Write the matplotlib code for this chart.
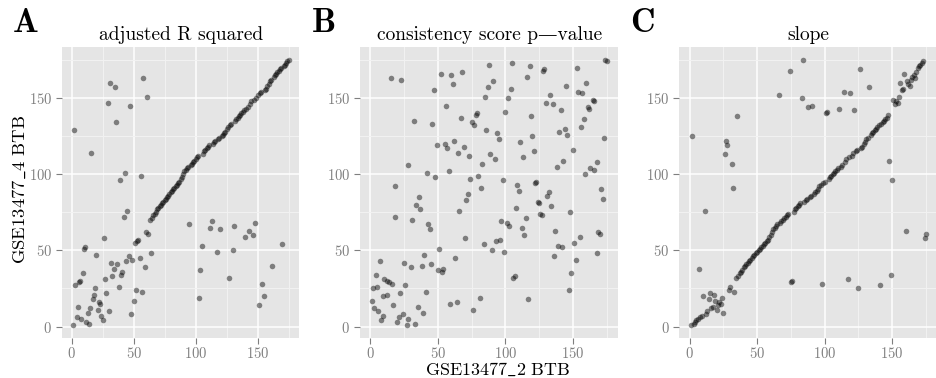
import matplotlib
matplotlib.use('Agg')
import matplotlib.pyplot as plt

plt.rcParams['font.family'] = ['cmr10', 'DejaVu Serif']
plt.rcParams['mathtext.fontset'] = 'cm'
plt.rcParams['axes.formatter.use_mathtext'] = True

# gene ranks: GSE13477_2 BTB (x) vs GSE13477_4 BTB (y), one list pair per score
adj_r2_x = [
    1, 2, 3, 4, 5, 6, 7, 8, 9, 10, 11, 12, 13, 14, 15, 16, 17, 18, 19, 20,
    21, 22, 23, 24, 25, 26, 27, 28, 29, 30, 31, 32, 33, 34, 35, 36, 37, 38,
    39, 40, 41, 42, 43, 44, 45, 46, 47, 48, 49, 50, 51, 52, 53, 54, 55, 56,
    57, 58, 59, 60, 61, 62, 64,
    95, 103, 104, 105, 112, 113, 117, 120, 127, 130, 131, 140, 143, 146, 148,
    151, 154, 155, 162, 170,
    63, 65, 66, 67, 68, 69, 70, 71, 72, 73, 74, 75, 76, 77, 78, 79, 80, 81,
    82, 83, 84, 85, 86, 87, 88, 89, 90, 91, 92, 93, 94, 96, 97, 98, 99, 100,
    101, 102, 106, 107, 108, 109, 110, 111, 114, 115, 116, 118, 119, 121,
    122, 123, 124, 125, 126, 128, 129, 132, 133, 134, 135, 136, 137, 138,
    139, 141, 142, 144, 145, 147, 149, 150, 152, 153, 156, 157, 158, 159,
    160, 161, 163, 164, 165, 166, 167, 168, 169, 171, 172, 173, 174, 175,
]
adj_r2_y = [
    1, 129, 27, 6, 13, 29, 30, 5, 35, 51, 52, 3, 9, 2, 12, 114, 18, 21, 25, 47,
    11, 16, 15, 7, 4, 58, 31, 22, 147, 10, 160, 42, 33, 38, 157, 134, 41, 26,
    96, 34, 36, 72, 101, 43, 76, 46, 145, 8, 44, 17, 55, 24, 56, 57, 45, 99,
    23, 163, 39, 62, 151, 61, 48,
    67, 19, 37, 53, 65, 69, 49, 64, 32, 50, 66, 59, 63, 60, 68,
    14, 28, 20, 40, 54,
    70, 71, 73, 74, 75, 77, 78, 79, 80, 81, 82, 83, 84, 85, 86, 87, 88, 89,
    90, 91, 92, 93, 94, 95, 97, 98, 100, 102, 103, 104, 105, 106, 107, 108,
    109, 110, 111, 112, 113, 115, 116, 117, 118, 119, 120, 121, 122, 123,
    124, 125, 126, 127, 128, 130, 131, 132, 133, 135, 136, 137, 138, 139,
    140, 141, 142, 143, 144, 146, 148, 149, 150, 152, 153, 154, 155, 156,
    158, 159, 161, 162, 164, 165, 166, 167, 168, 169, 170, 171, 172, 173,
    174, 175,
]

pvalue_x = [
    174, 175, 105, 88, 118, 153, 128, 129, 68, 52, 60, 116, 15, 23, 91, 160,
    61, 145, 87, 104, 47, 154, 157, 133, 85, 102, 165, 166, 130, 135, 56, 161,
    162, 141, 100, 79, 78, 119, 67, 158, 32, 75, 46, 77, 156, 144, 86, 140,
    94, 146, 120, 173, 95, 62, 111, 55, 49, 69, 57, 150, 121, 65, 89, 73, 113,
    92, 143, 168, 83, 28, 138, 163, 166, 58, 42, 159, 80, 48, 74, 98, 123,
    122, 109, 18, 82, 171, 110, 132, 72, 131, 36, 172, 71, 124, 125, 34, 134,
    108, 37, 66, 148, 126, 127, 18, 115, 31, 97, 101, 43, 103, 112, 44, 137,
    169, 170, 114, 155, 70, 96, 93, 151, 84, 139, 142, 51, 90, 99, 168, 40,
    136, 63, 152, 7, 25, 45, 38, 30, 50, 53, 54, 4, 149, 106, 107, 10, 12,
    14, 16, 26, 5, 2, 147, 41, 22, 12, 9, 81, 117, 1, 59, 64, 17, 35, 3, 76,
    6, 39, 24, 9, 21, 28, 8, 20, 33, 27,
]
pvalue_y = [
    175, 174, 173, 172, 171, 170, 168, 169, 167, 166, 165, 164, 163, 162, 161,
    160, 159, 158, 157, 156, 155, 154, 153, 152, 151, 150, 149, 148, 147, 146,
    145, 144, 143, 142, 141, 140, 139, 138, 137, 136, 135, 134, 133, 132, 131,
    130, 129, 128, 127, 126, 125, 124, 123, 122, 121, 120, 119, 118, 117, 116,
    115, 114, 113, 112, 111, 110, 109, 108, 107, 106, 105, 104, 103, 102, 101,
    100, 99, 98, 97, 96, 95, 94, 93, 92, 91, 90, 89, 88, 87, 86, 85, 84, 83,
    82, 81, 80, 79, 78, 77, 76, 75, 74, 73, 72, 71, 70, 69, 68, 67, 66, 65,
    64, 63, 62, 61, 60, 59, 58, 57, 56, 55, 54, 53, 52, 51, 50, 49, 48, 47,
    46, 45, 44, 43, 42, 41, 40, 39, 37, 36, 38, 34, 35, 32, 33, 31, 30, 29,
    28, 27, 26, 25, 24, 23, 22, 21, 20, 19, 18, 17, 15, 16, 14, 13, 12, 11,
    10, 9, 8, 7, 6, 5, 4, 3, 2, 1,
]

slope_x = [
    2, 7, 11, 26, 27, 28, 31, 32,
    1, 3, 4, 5, 6, 8, 9, 10, 12, 13, 14, 15, 16, 17, 18, 19, 20, 21, 22, 23,
    24, 25, 29, 30, 33,
    35, 66, 74, 75, 76, 83, 84, 88, 91, 98, 101, 102, 111, 114, 117, 119, 122,
    125, 126, 133, 141,
    148, 149, 150, 160, 174, 175,
    34, 36, 37, 38, 39, 40, 41, 42, 43, 44, 45, 46, 47, 48, 49, 50, 51, 52,
    53, 54, 55, 56, 57, 58, 59, 60, 61, 62, 63, 64, 65, 67, 68, 69, 70, 71,
    72, 73, 77, 78, 79, 80, 81, 82, 85, 86, 87, 89, 90, 92, 93, 94, 95, 96,
    97, 99, 100, 103, 104, 105, 106, 107, 108, 109, 110, 112, 113, 115, 116,
    118, 120, 121, 123, 124, 127, 128, 129, 130, 131, 132, 134, 135, 136,
    137, 138, 139, 140, 142, 143, 144, 145, 146, 147,
    151, 152, 153, 154, 155, 156, 157, 158, 159, 161, 162, 163, 164, 165,
    166, 167, 168, 169, 170, 171, 172, 173,
]
slope_y = [
    125, 38, 76, 113, 122, 119, 107, 91,
    1, 2, 3, 4, 5, 6, 7, 20, 8, 10, 18, 22, 12, 13, 21, 17, 11, 14, 16, 15,
    19, 9, 24, 26, 23,
    138, 152, 168, 29, 30, 150, 175, 144, 145, 28, 140, 141, 143, 154, 31, 153,
    142, 25, 169, 157, 27,
    109, 34, 96, 63, 58, 61,
    32, 33, 35, 36, 37, 39, 40, 41, 42, 43, 44, 45, 46, 47, 48, 49, 50, 51,
    52, 53, 54, 55, 56, 57, 59, 60, 62, 64, 65, 66, 67, 68, 69, 70, 71, 72,
    73, 74, 75, 77, 78, 79, 80, 81, 82, 83, 84, 85, 86, 87, 88, 89, 90, 92,
    93, 94, 95, 97, 98, 99, 100, 101, 102, 103, 104, 105, 106, 108, 110, 111,
    112, 114, 115, 116, 117, 118, 120, 121, 123, 124, 126, 127, 128, 129,
    130, 131, 132, 133, 134, 135, 136, 137, 139,
    149, 146, 148, 147, 151, 160, 155, 156, 166, 161, 159, 158, 162, 164,
    165, 163, 167, 170, 171, 172, 173, 174,
]

titles = ['adjusted R squared', 'consistency score p\u2014value', 'slope']
letters = ['A', 'B', 'C']

BG = '#E5E5E5'
GREY = '#7F7F7F'
W, H = 936, 378
LIM = (-7.7, 183.7)

fig = plt.figure(figsize=(W / 100, H / 100), dpi=100)


def add_panel(left, top, width, height):
    return fig.add_axes([left / W, 1 - (top + height) / H, width / W, height / H])


boxes = [(62, 46.7, 237.3, 291.6), (360, 46.7, 258.3, 291.6),
         (679.3, 46.7, 258.3, 291.6)]
data = [(adj_r2_x, adj_r2_y), (pvalue_x, pvalue_y), (slope_x, slope_y)]
letter_x = [13, 312, 630]

for box, (xs, ys), title, letter, lx in zip(boxes, data, titles, letters, letter_x):
    ax = add_panel(*box)
    ax.set_facecolor(BG)
    for s in ax.spines.values():
        s.set_visible(False)
    ax.set_xlim(LIM)
    ax.set_ylim(LIM)
    ax.set_xticks([0, 50, 100, 150])
    ax.set_yticks([0, 50, 100, 150])
    ax.set_xticks([25, 75, 125, 175], minor=True)
    ax.set_yticks([25, 75, 125, 175], minor=True)
    ax.grid(which='major', color='white', lw=1.1)
    ax.grid(which='minor', color='#F2F2F2', lw=0.7)
    ax.set_axisbelow(True)
    ax.tick_params(which='major', direction='out', length=4, width=0.8,
                   color=GREY, labelcolor=GREY, labelsize=10.5)
    ax.tick_params(axis='x', which='major', pad=1.8)
    ax.tick_params(axis='y', which='major', pad=3.2)
    ax.tick_params(which='minor', length=0)
    ax.scatter(xs, ys, s=16, c='black', alpha=0.45, linewidths=0, zorder=3)
    ax.set_title(title, fontsize=14, pad=4.8)
    fig.text(lx / W, 1 - 32 / H, letter, fontfamily='cmb10', fontsize=24.5,
             ha='left', va='baseline')

fig.text(497 / W, 1 - 375 / H, r'$\mathrm{GSE13477\_2\ BTB}$', fontsize=13,
         ha='center', va='baseline')
fig.text(19 / W, 1 - 189 / H, r'$\mathrm{GSE13477\_4\ BTB}$', fontsize=13.4,
         rotation=90, ha='center', va='center')

fig.savefig('out.png', dpi=100)
